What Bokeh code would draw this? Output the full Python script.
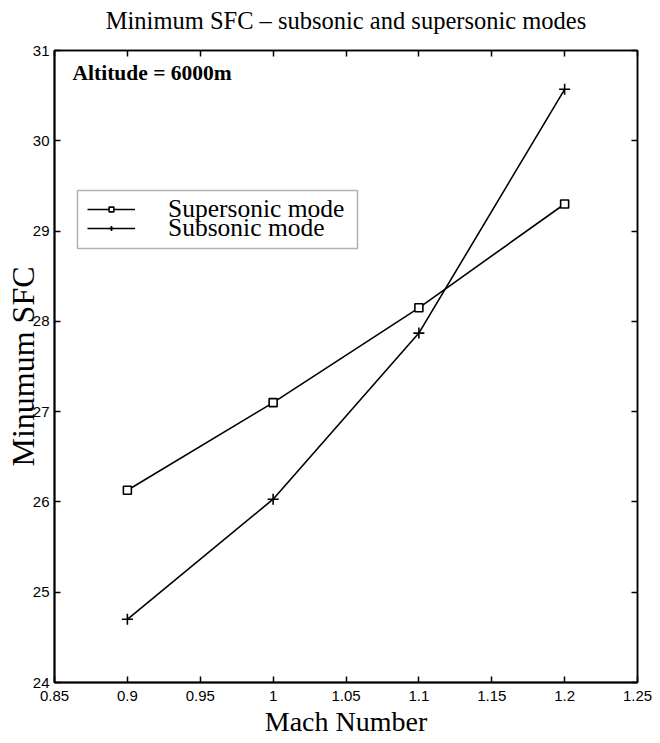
from bokeh.plotting import figure
from bokeh.models import (Label, LinearAxis, FixedTicker, Range1d, Legend, LegendItem,
                          CustomJSTickFormatter, BoxAnnotation)
from bokeh.embed import file_html
from bokeh.resources import INLINE

# ---- data ----
mach = [0.9, 1.0, 1.1, 1.2]
supersonic_sfc = [26.13, 27.10, 28.15, 29.30]
subsonic_sfc = [24.70, 26.03, 27.87, 30.57]
x_ticks = [0.85, 0.9, 0.95, 1.0, 1.05, 1.1, 1.15, 1.2, 1.25]
x_tick_labels = ["0.85", "0.9", "0.95", "1", "1.05", "1.1", "1.15", "1.2", "1.25"]
y_ticks = [24, 25, 26, 27, 28, 29, 30, 31]
title_text = "Minimum SFC \u2013 subsonic and supersonic modes"
x_label = "Mach Number"
y_label = "Minumum SFC"
annotation = "Altitude = 6000m"
series_names = ["Supersonic mode", "Subsonic mode"]

SERIF = "Liberation Serif"
TICKFONT = "Liberation Sans"

p = figure(width=652, height=742, output_backend="svg", toolbar_location=None,
           x_range=Range1d(0.85, 1.25), y_range=Range1d(24, 31),
           min_border_left=54, min_border_right=15, min_border_top=50, min_border_bottom=60)
p.xaxis.visible = False
p.yaxis.visible = False
p.grid.visible = False
p.outline_line_color = "black"
p.outline_line_width = 1.5
p.background_fill_color = "white"
p.border_fill_color = "white"

def style_axis(ax, labels=True):
    ax.axis_line_color = "black"
    ax.axis_line_width = 2
    ax.major_tick_in = 6
    ax.major_tick_out = 0
    ax.major_tick_line_color = "black"
    ax.major_tick_line_width = 1.5
    ax.minor_tick_line_color = None
    ax.major_label_text_font = TICKFONT
    ax.major_label_text_font_size = "15px"
    ax.major_label_text_color = "black"
    ax.axis_label_text_font = SERIF
    ax.axis_label_text_font_style = "normal"
    ax.axis_label_text_color = "black"
    if not labels:
        ax.formatter = CustomJSTickFormatter(code="return ''")
        ax.major_label_text_font_size = "0px"
        ax.major_label_standoff = 0
        ax.axis_line_width = 1.5

bx = LinearAxis(ticker=FixedTicker(ticks=x_ticks))
style_axis(bx)
bx.major_label_overrides = {t: l for t, l in zip(x_ticks, x_tick_labels)}
bx.major_label_standoff = 8
bx.axis_label = x_label
bx.axis_label_text_font_size = "28px"
bx.axis_label_standoff = 2

ly = LinearAxis(ticker=FixedTicker(ticks=y_ticks))
style_axis(ly)
ly.major_label_standoff = 5
ly.axis_label = y_label
ly.axis_label_text_font_size = "32px"
ly.axis_label_standoff = -11

# top axis carries the title as its label
tx = LinearAxis(ticker=FixedTicker(ticks=x_ticks))
style_axis(tx, labels=False)
tx.axis_label = title_text
tx.axis_label_text_font_size = "24.5px"
tx.axis_label_standoff = 17

ry = LinearAxis(ticker=FixedTicker(ticks=y_ticks))
style_axis(ry, labels=False)

p.add_layout(bx, "below")
p.add_layout(ly, "left")
p.add_layout(tx, "above")
p.add_layout(ry, "right")

l1 = p.line(mach, supersonic_sfc, line_color="black", line_width=1.6)
m1 = p.scatter(mach, supersonic_sfc, marker="square", size=8, fill_color="white",
               line_color="black", line_width=1.6)
l2 = p.line(mach, subsonic_sfc, line_color="black", line_width=1.6)
m2 = p.scatter(mach, subsonic_sfc, marker="cross", size=11, line_color="black", line_width=1.6)

# legend frame
p.add_layout(BoxAnnotation(left=23, right=303, top=492, bottom=434,
                           left_units="screen", right_units="screen",
                           top_units="screen", bottom_units="screen",
                           fill_color="white", fill_alpha=1,
                           line_color="black", line_width=1.5))

def make_legend(name, rends, y):
    lg = Legend(items=[LegendItem(label=name, renderers=rends)], location=(33, y))
    lg.label_text_font = SERIF
    lg.label_text_font_size = "25.5px"
    lg.label_text_color = "black"
    lg.glyph_width = 48
    lg.glyph_height = 12
    lg.label_height = 12
    lg.padding = 0
    lg.margin = 0
    lg.label_standoff = 33
    lg.border_line_color = None
    lg.background_fill_alpha = 0
    return lg

p.add_layout(make_legend(series_names[0], [l1, m1], 458), "center")
p.add_layout(make_legend(series_names[1], [l2, m2], 439), "center")

p.add_layout(Label(x=18, y=610, x_units="screen", y_units="screen", text=annotation,
                   text_font=SERIF, text_font_style="bold", text_font_size="21.5px",
                   text_color="black", text_baseline="alphabetic"))

open("out.html", "w").write(file_html(p, INLINE))
